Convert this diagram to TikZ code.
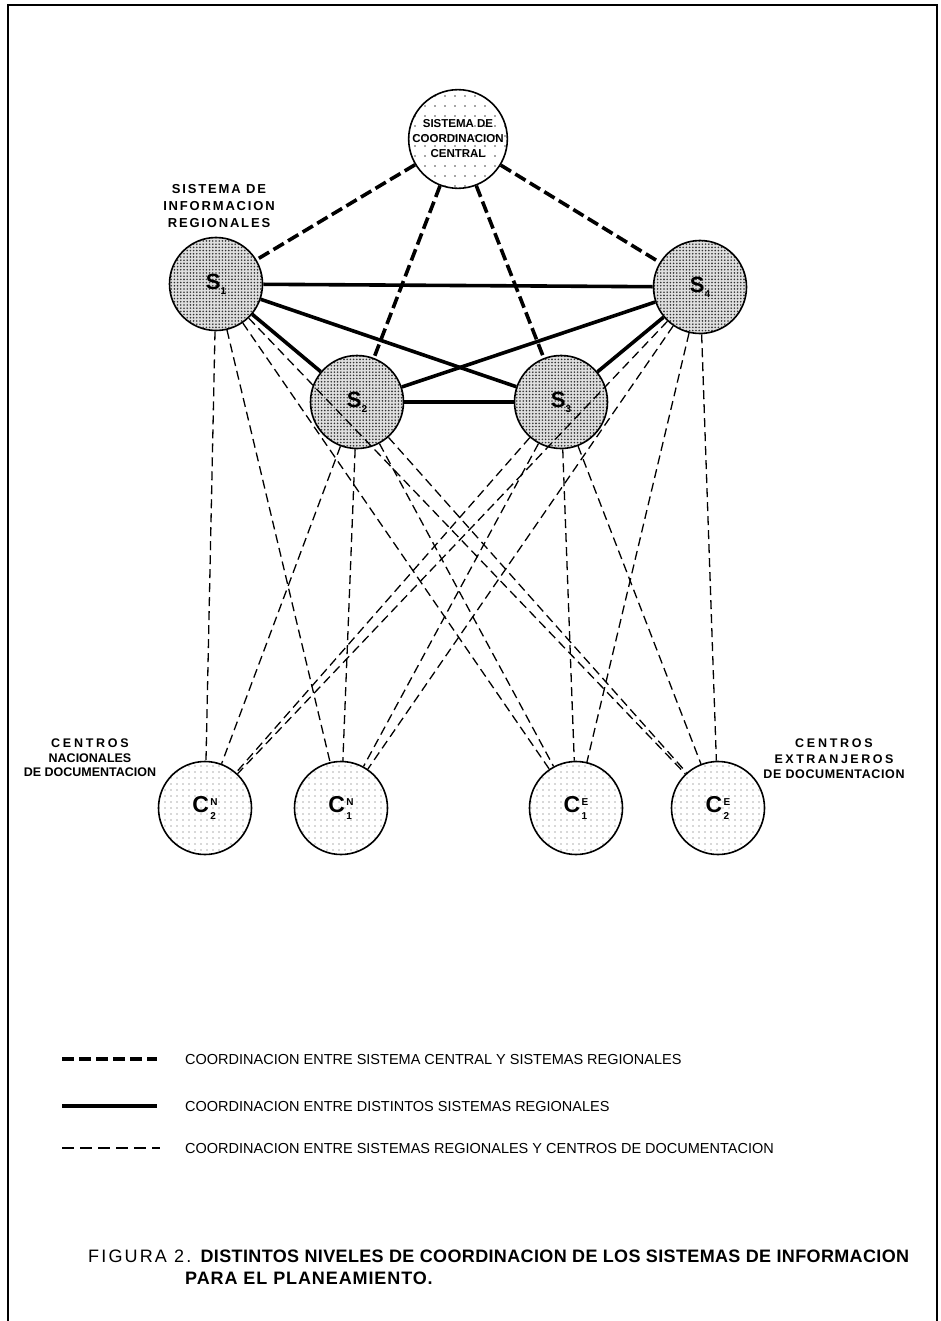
\documentclass[tikz,border=0pt]{standalone}
\usepackage{fontspec}
\setmainfont{Liberation Sans}
\usetikzlibrary{patterns.meta}

\tikzdeclarepattern{
  name=densedots, type=uncolored,
  bottom left={(-.5pt,-.5pt)}, top right={(3.5pt,3.5pt)},
  tile size={(3.2pt,3.2pt)},
  code={\fill (1.6pt,1.6pt) circle (0.9pt);}
}
\tikzdeclarepattern{
  name=sparsedots, type=uncolored,
  bottom left={(-.5pt,-.5pt)}, top right={(6.5pt,6.5pt)},
  tile size={(6pt,6pt)},
  code={\fill (3pt,3pt) circle (0.65pt);}
}
\tikzdeclarepattern{
  name=widedots, type=uncolored,
  bottom left={(-.5pt,-.5pt)}, top right={(10.5pt,10.5pt)},
  tile size={(10pt,10pt)},
  code={\fill (5pt,5pt) circle (0.9pt);}
}

\newcommand{\Slab}[1]{\fontsize{22}{22}\selectfont\bfseries S\raisebox{-5pt}{\fontsize{10}{10}\selectfont #1}}
\newcommand{\Clab}[2]{\fontsize{23}{23}\selectfont\bfseries C\hspace{1.5pt}\raisebox{-7pt}{\fontsize{10}{10}\selectfont\shortstack[l]{#1\\[4pt]#2}}}

\tikzset{
  circ/.style={circle, draw, line width=1.6pt, minimum size=93pt, inner sep=0pt},
  snode/.style={circ, preaction={fill=gray!25}, pattern={densedots}, pattern color=black!80},
  cnode/.style={circ, pattern={sparsedots}, pattern color=black!65},
  cennode/.style={circ, minimum size=92pt, pattern={widedots}, pattern color=black!70,
     align=center, font=\fontsize{11.5}{15}\selectfont\bfseries},
  cdash/.style={line width=3.6pt, dash pattern=on 12pt off 5pt},
  solidlink/.style={line width=3.6pt},
  tdash/.style={line width=1.3pt, dash pattern=on 9pt off 5pt},
  lab/.style={align=center, inner sep=0pt},
  legtext/.style={anchor=west, inner sep=0pt, font=\fontsize{14.5}{16}\selectfont},
}

\begin{document}
\begin{tikzpicture}[x=1pt,y=-1pt]
\useasboundingbox (0,0) rectangle (940,1321);
\fill[white] (0,0) rectangle (940,1321);

% frame
\coordinate (f1) at (8,1321);
\coordinate (f2) at (8,5);
\coordinate (f3) at (937,5);
\coordinate (f4) at (937,1321);
\draw[line width=2.5pt] (f1) -- (f2) -- (f3) -- (f4);

% nodes
\node[cennode] (cen) at (458,139) {SISTEMA DE\\COORDINACION\\CENTRAL};
\node[snode] (S1) at (216,284) {\Slab{1}};
\node[snode] (S4) at (700,287) {\Slab{4}};
\node[snode] (S2) at (357,402) {\Slab{2}};
\node[snode] (S3) at (561,402) {\Slab{3}};

\node[cnode] (C2N) at (205,808) {\Clab{N}{2}};
\node[cnode] (C1N) at (341,808) {\Clab{N}{1}};
\node[cnode] (C1E) at (576,808) {\Clab{E}{1}};
\node[cnode] (C2E) at (718,808) {\Clab{E}{2}};

% central - regional
\foreach \s in {S1,S2,S3,S4} \draw[cdash] (cen) -- (\s);

% regional - regional
\draw[solidlink] (S1) -- (S4);
\draw[solidlink] (S1) -- (S2);
\draw[solidlink] (S1) -- (S3);
\draw[solidlink] (S2) -- (S3);
\draw[solidlink] (S2) -- (S4);
\draw[solidlink] (S3) -- (S4);

% regional - centros
\foreach \s in {S1,S2,S3,S4}
  \foreach \c in {C2N,C1N,C1E,C2E}
    \draw[tdash] (\s) -- (\c);

% labels
\node[lab, font=\fontsize{13}{17}\selectfont\bfseries\addfontfeature{LetterSpace=14}] (lreg) at (219,206) {SISTEMA DE\\INFORMACION\\REGIONALES};
\node[lab, font=\fontsize{12.5}{14.5}\selectfont\bfseries] (lnac) at (90,758)
  {{\addfontfeature{LetterSpace=22}CENTROS}\\NACIONALES\\DE DOCUMENTACION};
\node[lab, font=\fontsize{12.5}{15.5}\selectfont\bfseries] (lext) at (834,759)
  {{\addfontfeature{LetterSpace=22}CENTROS}\\{\addfontfeature{LetterSpace=20}EXTRANJEROS}\\{\addfontfeature{LetterSpace=5}DE DOCUMENTACION}};

% legend
\coordinate (a1) at (62,1059); \coordinate (b1) at (157,1059);
\coordinate (a2) at (62,1106); \coordinate (b2) at (157,1106);
\coordinate (a3) at (62,1148); \coordinate (b3) at (160,1148);
\draw[cdash] (a1) -- (b1);
\draw[solidlink] (a2) -- (b2);
\draw[line width=1.5pt, dash pattern=on 12pt off 6pt] (a3) -- (b3);
\node[legtext] (t1) at (185,1059) {COORDINACION ENTRE SISTEMA CENTRAL Y SISTEMAS REGIONALES};
\node[legtext] (t2) at (185,1106) {COORDINACION ENTRE DISTINTOS SISTEMAS REGIONALES};
\node[legtext] (t3) at (185,1148) {COORDINACION ENTRE SISTEMAS REGIONALES Y CENTROS DE DOCUMENTACION};

% caption
\node[anchor=west, inner sep=0pt, font=\fontsize{18}{21}\selectfont\addfontfeature{LetterSpace=2}] (cap1) at (88,1256)
  {{\addfontfeature{LetterSpace=12}FIGURA 2.} \textbf{DISTINTOS NIVELES DE COORDINACION DE LOS SISTEMAS DE INFORMACION}};
\node[anchor=west, inner sep=0pt, font=\fontsize{18}{21}\selectfont\bfseries\addfontfeature{LetterSpace=5}] (cap2) at (185,1278)
  {PARA EL PLANEAMIENTO.};
\end{tikzpicture}
\end{document}
